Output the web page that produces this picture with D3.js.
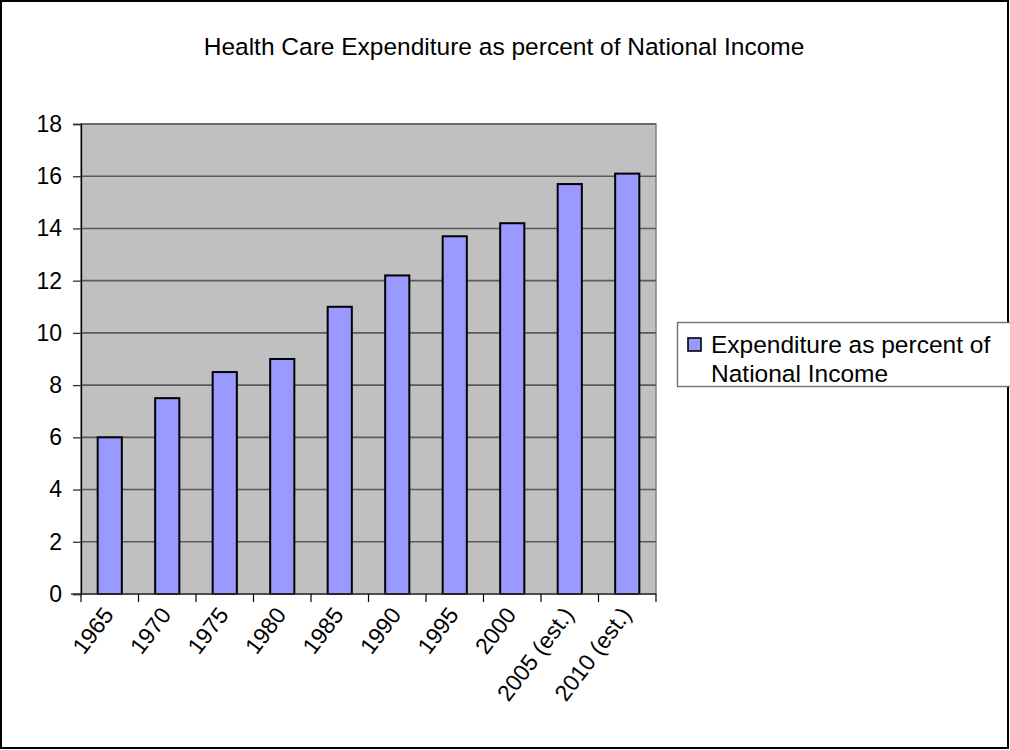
<!DOCTYPE html>
<html><head><meta charset="utf-8">
<script src="https://cdn.jsdelivr.net/npm/d3@7"></script>
<style>body{margin:0;background:#fff;}svg{display:block;font-family:"Liberation Sans",Arial,sans-serif;}</style>
</head><body>
<script>
const categories = ["1965","1970","1975","1980","1985","1990","1995","2000","2005 (est.)","2010 (est.)"];
const values = [6.0, 7.5, 8.5, 9.0, 11.0, 12.2, 13.7, 14.2, 15.7, 16.1];
const yTicks = [0,2,4,6,8,10,12,14,16,18];
const title = "Health Care Expenditure as percent of National Income";
const legendLines = ["Expenditure as percent of", "National Income"];

const W = 1010, H = 750;
const svg = d3.select("body").append("svg").attr("width", W).attr("height", H);
svg.append("rect").attr("x",1).attr("y",1).attr("width",W-3).attr("height",H-3)
  .attr("fill","#fff").attr("stroke","#000").attr("stroke-width",2);

const L = 81, R = 656, T = 124, B = 594;
const x = d3.scaleBand().domain(categories).range([L, R]).paddingInner(0.58).paddingOuter(0.29);
const y = d3.scaleLinear().domain([0, 18]).range([B, T]);

svg.append("rect").attr("x",L).attr("y",T).attr("width",R-L).attr("height",B-T)
  .attr("fill","#c0c0c0").attr("stroke","#808080").attr("stroke-width",1.5);

// gridlines
svg.append("g").selectAll("line").data(yTicks.filter(d=>d>0)).join("line")
  .attr("x1",L).attr("x2",R).attr("y1",d=>y(d)).attr("y2",d=>y(d))
  .attr("stroke","#5a5a5a").attr("stroke-width",1.6);

// bars
svg.append("g").selectAll("rect").data(values).join("rect")
  .attr("x",(d,i)=>x(categories[i])).attr("width",x.bandwidth())
  .attr("y",d=>y(d)).attr("height",d=>B-y(d))
  .attr("fill","#9999ff").attr("stroke","#000").attr("stroke-width",2);

// y axis
const yAxis = d3.axisLeft(y).tickValues(yTicks).tickSize(8).tickPadding(11).tickFormat(d3.format("d"));
const gy = svg.append("g").attr("transform",`translate(${L},0)`).call(yAxis);
gy.select(".domain").attr("stroke","#000").attr("stroke-width",1.3);
gy.selectAll(".tick line").attr("stroke","#333").attr("stroke-width",1.3);
gy.selectAll("text").attr("font-size",23).attr("fill","#000").attr("font-family","Liberation Sans, Arial, sans-serif");

// x axis
const xAxisLine = svg.append("g");
xAxisLine.append("line").attr("x1",L-10).attr("x2",R).attr("y1",B).attr("y2",B).attr("stroke","#333").attr("stroke-width",1.6);
const tickPos = categories.map((c,i)=>L + i*(R-L)/categories.length).concat([R]);
xAxisLine.selectAll("line.t").data(tickPos).join("line").attr("class","t")
  .attr("x1",d=>d).attr("x2",d=>d).attr("y1",B).attr("y2",B+8).attr("stroke","#000").attr("stroke-width",1.2);
svg.append("g").selectAll("text").data(categories).join("text")
  .attr("transform",d=>`translate(${x(d)+x.bandwidth()/2+5},${B+21}) rotate(-53)`)
  .attr("text-anchor","end").attr("font-size",23).attr("fill","#000").text(d=>d);

// title
svg.append("text").attr("x",504).attr("y",55).attr("text-anchor","middle")
  .attr("font-size",24.5).attr("fill","#000").text(title);

// legend
const lg = svg.append("g");
lg.append("rect").attr("x",677.5).attr("y",322.5).attr("width",340).attr("height",64)
  .attr("fill","#fff").attr("stroke","#707070").attr("stroke-width",1.4);
lg.append("rect").attr("x",688).attr("y",338).attr("width",13).attr("height",13)
  .attr("fill","#9999ff").attr("stroke","#000").attr("stroke-width",1.6);
lg.selectAll("text").data(legendLines).join("text")
  .attr("x",711).attr("y",(d,i)=>353+i*29)
  .attr("font-size",24.5).attr("fill","#000").text(d=>d);
</script>
</body></html>
